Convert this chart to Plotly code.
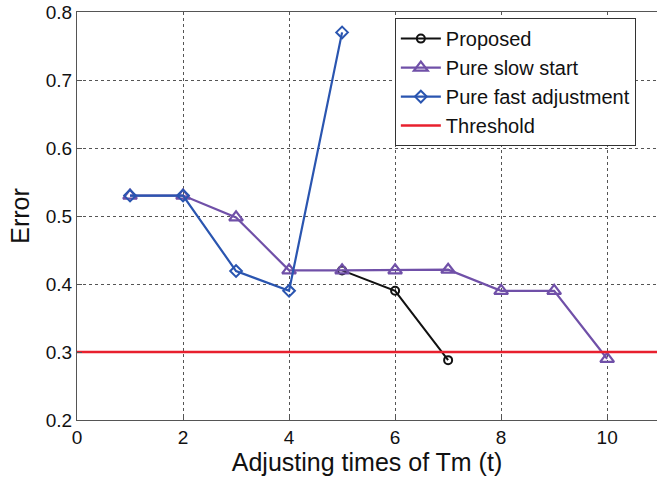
import plotly.graph_objects as go

# Data
x_proposed = [5, 6, 7]
y_proposed = [0.42, 0.39, 0.288]

x_slow = [1, 2, 3, 4, 5, 6, 7, 8, 9, 10]
y_slow = [0.53, 0.53, 0.498, 0.42, 0.42, 0.42, 0.421, 0.39, 0.39, 0.29]

x_fast = [1, 2, 3, 4, 5]
y_fast = [0.53, 0.53, 0.419, 0.39, 0.77]

threshold_x = [0, 11]
threshold_y = [0.3, 0.3]

x_ticks = [0, 2, 4, 6, 8, 10]
y_ticks = [0.2, 0.3, 0.4, 0.5, 0.6, 0.7, 0.8]

BLACK = "#111111"
PURPLE = "#7050a8"
BLUE = "#2a55b0"
RED = "#e8202e"

fig = go.Figure()
fig.add_trace(go.Scatter(
    x=x_proposed, y=y_proposed, name="Proposed", mode="lines+markers",
    line=dict(color=BLACK, width=2),
    marker=dict(symbol="circle-open", size=8, color=BLACK, line=dict(width=2)),
))
fig.add_trace(go.Scatter(
    x=x_slow, y=y_slow, name="Pure slow start", mode="lines+markers",
    line=dict(color=PURPLE, width=2.2),
    marker=dict(symbol="triangle-up-open", size=12, color=PURPLE, line=dict(width=2.2)),
))
fig.add_trace(go.Scatter(
    x=x_fast, y=y_fast, name="Pure fast adjustment", mode="lines+markers",
    line=dict(color=BLUE, width=2.2),
    marker=dict(symbol="diamond-open", size=9, color=BLUE, line=dict(width=2)),
))
fig.add_trace(go.Scatter(
    x=threshold_x, y=threshold_y, name="Threshold", mode="lines",
    line=dict(color=RED, width=2.5),
))

axis_common = dict(
    showline=True, linecolor="#555555", linewidth=1.2, mirror=True,
    showgrid=True, gridcolor="#555555", griddash="dot", gridwidth=1,
    ticks="inside", ticklen=5, tickcolor="#555555",
    zeroline=False, automargin=False,
    tickfont=dict(family="Liberation Sans, Arial, sans-serif", size=19, color="#111111"),
)

fig.update_layout(
    width=657, height=486,
    margin=dict(l=77, r=0, t=12, b=66),
    plot_bgcolor="white", paper_bgcolor="white",
    font=dict(family="Liberation Sans, Arial, sans-serif", color="#111111"),
    xaxis=dict(
        range=[0, 10.94], tickvals=x_ticks, ticktext=[str(v) for v in x_ticks],
        title=dict(text="Adjusting times of Tm (t)", font=dict(size=25), standoff=4),
        **axis_common,
    ),
    yaxis=dict(
        range=[0.2, 0.8], tickvals=y_ticks, ticktext=["%.1f" % v for v in y_ticks],
        title=dict(text="Error", font=dict(size=25), standoff=8),
        ticklabeloverflow="allow",
        **axis_common,
    ),
    legend=dict(
        x=0.548, y=0.985, xanchor="left", yanchor="top",
        bordercolor="#333333", borderwidth=1, bgcolor="white",
        font=dict(size=20), tracegroupgap=0, itemwidth=40,
    ),
    showlegend=True,
)

fig.write_html(
    "out.html",
    config={"displayModeBar": False},
    post_script="document.body.style.margin='0';document.body.style.overflow='hidden';",
)
